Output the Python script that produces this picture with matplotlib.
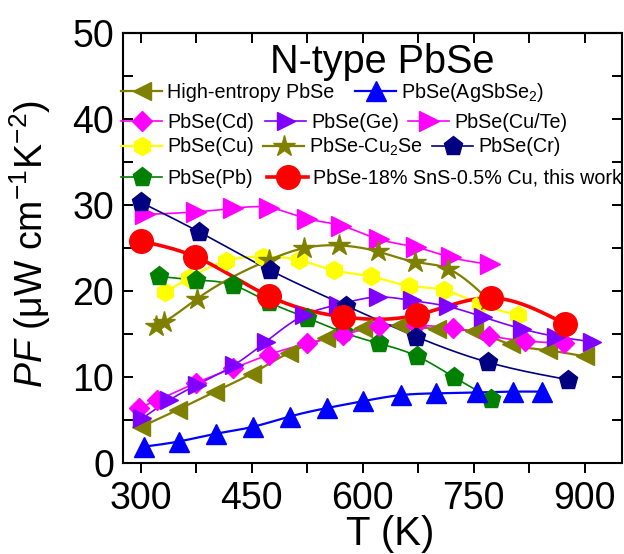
import numpy as np
import matplotlib
matplotlib.use("Agg")
import matplotlib.pyplot as plt
from matplotlib.lines import Line2D

plt.rcParams['font.family'] = ['Liberation Sans', 'DejaVu Sans']
plt.rcParams['mathtext.fontset'] = 'custom'
plt.rcParams['mathtext.rm'] = 'Liberation Sans'
plt.rcParams['mathtext.it'] = 'Liberation Sans:italic'
plt.rcParams['mathtext.bf'] = 'Liberation Sans:bold'

# ---------------- data ----------------
T_he = [300, 350, 400, 450, 500, 550, 600, 650, 700, 750, 800, 850, 900]
PF_he = [4.2, 6.2, 8.3, 10.4, 12.8, 14.5, 15.7, 16.0, 15.6, 15.3, 13.8, 13.1, 12.4]

T_ag = [304, 351, 401, 451, 501, 552, 601, 652, 699, 754, 803, 842]
PF_ag = [1.9, 2.5, 3.4, 4.2, 5.4, 6.4, 7.2, 7.9, 8.1, 8.2, 8.3, 8.3]

T_cd = [297, 322, 374, 424, 473, 525, 573, 622, 672, 722, 771, 820, 872]
PF_cd = [6.4, 7.3, 9.3, 11.0, 12.6, 13.9, 14.9, 15.9, 16.0, 15.7, 14.8, 14.2, 13.9]

T_ge = [302, 338, 376, 426, 469, 521, 566, 620, 666, 715, 762, 815, 862, 910]
PF_ge = [5.2, 7.3, 9.1, 11.4, 14.1, 17.2, 18.4, 19.3, 18.9, 18.2, 17.0, 15.6, 14.7, 14.1]

T_cute = [306, 374, 424, 473, 525, 571, 622, 672, 720, 772]
PF_cute = [28.9, 29.2, 29.6, 29.7, 28.4, 27.6, 26.0, 25.1, 23.9, 23.1]

T_cu = [333, 365, 415, 465, 514, 561, 611, 662, 710, 758, 810]
PF_cu = [19.9, 21.5, 23.5, 24.0, 23.6, 22.4, 21.7, 20.6, 20.1, 18.5, 17.2]

T_cu2se = [320, 331, 376, 473, 521, 568, 620, 670, 715, 770]
PF_cu2se = [15.9, 16.4, 19.1, 23.6, 25.0, 25.3, 24.6, 23.4, 22.6, 19.0]

T_cr = [300, 378, 475, 577, 672, 770, 877]
PF_cr = [30.3, 26.9, 22.4, 18.3, 14.7, 11.7, 9.7]

T_pb = [324, 374, 424, 473, 524, 573, 622, 674, 723, 774]
PF_pb = [21.7, 21.3, 20.7, 18.7, 16.9, 15.2, 13.9, 12.4, 10.0, 7.5]

T_tw = [300, 373, 473, 573, 673, 773, 873]
PF_tw = [25.8, 24.0, 19.4, 17.0, 17.2, 19.2, 16.2]

labels = ['High-entropy PbSe', 'PbSe(AgSbSe$_2$)', 'PbSe(Cd)', 'PbSe(Ge)',
          'PbSe(Cu/Te)', 'PbSe(Cu)', 'PbSe-Cu$_2$Se', 'PbSe(Cr)', 'PbSe(Pb)',
          'PbSe-18% SnS-0.5% Cu, this work']


def spline(x, y, n=200):
    x = np.asarray(x, float)
    y = np.asarray(y, float)
    m = len(x)
    h = np.diff(x)
    A = np.zeros((m, m))
    r = np.zeros(m)
    A[0, 0] = A[-1, -1] = 1
    for i in range(1, m - 1):
        A[i, i - 1] = h[i - 1]
        A[i, i] = 2 * (h[i - 1] + h[i])
        A[i, i + 1] = h[i]
        r[i] = 6 * ((y[i + 1] - y[i]) / h[i] - (y[i] - y[i - 1]) / h[i - 1])
    M = np.linalg.solve(A, r)
    xs = np.linspace(x[0], x[-1], n)
    idx = np.clip(np.searchsorted(x, xs) - 1, 0, m - 2)
    x0, x1 = x[idx], x[idx + 1]
    hh = x1 - x0
    a = (x1 - xs) / hh
    b = (xs - x0) / hh
    ys = a * y[idx] + b * y[idx + 1] + ((a ** 3 - a) * M[idx] + (b ** 3 - b) * M[idx + 1]) * hh ** 2 / 6
    return xs, ys


fig = plt.figure(figsize=(6.24, 5.54), dpi=100)
W, H = 624, 554
ax = fig.add_axes([122.5 / W, 1 - 463 / H, (621.5 - 122.5) / W, (463 - 33) / H])

series = [
    # T, PF, color, marker, ms, lw, label idx
    (T_cu, PF_cu, '#FFFF00', 'h', 13, 1.6, 5),
    (T_pb, PF_pb, '#008000', 'p', 14, 1.2, 8),
    (T_he, PF_he, '#808000', '<', 13, 1.6, 0),
    (T_cd, PF_cd, '#FF00FF', 'D', 10, 1.2, 2),
    (T_ge, PF_ge, '#8000FF', '>', 13, 1.2, 3),
    (T_ag, PF_ag, '#0000FF', '^', 14, 1.6, 1),
    (T_cute, PF_cute, '#FF00FF', '>', 14, 1.2, 4),
    (T_cu2se, PF_cu2se, '#808000', '*', 16, 1.6, 6),
    (T_cr, PF_cr, '#000080', 'p', 14, 1.2, 7),
    (T_tw, PF_tw, '#FF0000', 'o', 17, 2.6, 9),
]

handles = {}
for T, PF, c, mk, ms, lw, li in series:
    xs, ys = spline(T, PF)
    ax.plot(xs, ys, color=c, lw=lw, zorder=2)
    ax.plot(T, PF, ls='none', marker=mk, ms=ms, color=c, mec=c, zorder=3)
    handles[li] = Line2D([], [], color=c, lw=lw, marker=mk, ms=ms, mec=c)

ax.set_xlim(275, 950)
ax.set_ylim(0, 50)
ax.set_xticks([300, 450, 600, 750, 900])
ax.set_xticks([375, 525, 675, 825], minor=True)
ax.set_yticks([0, 10, 20, 30, 40, 50])
ax.set_yticks([5, 15, 25, 35, 45], minor=True)

for s in ax.spines.values():
    s.set_linewidth(1.5)

ax.tick_params(axis='x', which='both', bottom=True, top=False, direction='out',
               length=7, width=1.4, labelsize=27, pad=6)
ax.tick_params(axis='y', which='both', left=True, right=True, direction='in',
               length=7, width=1.4, labelsize=27, pad=6)
# top ticks inward
axt = ax.secondary_xaxis('top')
axt.set_xticks([300, 450, 600, 750, 900])
axt.set_xticks([375, 525, 675, 825], minor=True)
axt.tick_params(axis='x', which='both', direction='in', length=7, width=1.4,
                labeltop=False)
axt.spines['top'].set_linewidth(1.5)

ax.set_xlabel('T (K)', fontsize=29, labelpad=0)
ax.xaxis.set_label_coords(0.536, -0.122)
ax.set_ylabel('$\\it{PF}$ (μW cm$^{-1}$K$^{-2}$)', fontsize=27)
ax.yaxis.set_label_coords(-0.14, 0.51)

fig.text(382 / W, 1 - 62 / H, 'N-type PbSe', fontsize=28.5, ha='center', va='center')

# legend entries: (label index, handle start x in px, row centre y in px)
entries = [
    (0, 121, 92), (1, 355, 92),
    (2, 121, 122), (3, 265, 122), (4, 408, 122),
    (5, 121, 147), (6, 263, 147), (7, 432, 147),
    (8, 121, 178), (9, 267, 178),
]
for i, xpix, ypix in entries:
    leg = fig.legend([handles[i]], [labels[i]],
                     loc='center left', bbox_to_anchor=(xpix / W, 1 - ypix / H),
                     frameon=False, fontsize=14.2,
                     handlelength=2.1, handletextpad=0.25,
                     borderpad=0, borderaxespad=0, numpoints=1)
    leg.set_zorder(5)

fig.savefig('out.png', dpi=100)
